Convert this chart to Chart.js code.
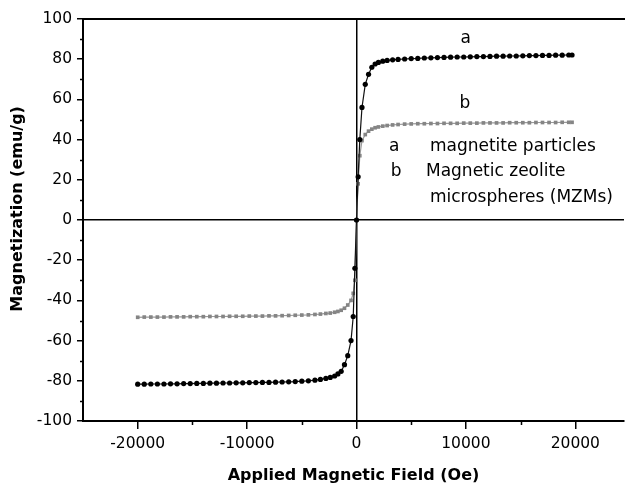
<!DOCTYPE html>
<html><head><meta charset="utf-8">
<script src="https://cdn.jsdelivr.net/npm/chart.js@4.4.1/dist/chart.umd.min.js"></script>
<style>html,body{margin:0;padding:0;background:#fff}#wrap{width:628px;height:485px;position:relative}</style>
</head><body><div id="wrap"><canvas id="c"></canvas></div>
<script>
// Applied field (Oe)
const fields = [
  -20000,-19400,-18800,-18200,-17600,-17000,-16400,-15800,-15200,-14600,-14000,-13400,-12800,
  -12200,-11600,-11000,-10400,-9800,-9200,-8600,-8000,-7400,-6800,-6200,-5600,-5000,
  -4400,-3800,-3300,-2800,-2400,-2000,-1700,-1400,-1100,-800,-500,-300,-150,
  0,
  150,300,500,800,1100,1400,1700,2000,2400,2800,3300,3800,4400,
  5000,5600,6200,6800,7400,8000,8600,9200,9800,10400,11000,11600,12200,12800,13400,14000,
  14600,15200,15800,16400,17000,17600,18200,18800,19400,19700
];
// a: magnetite particles (emu/g)
const magA = [
  -81.7,-81.7,-81.6,-81.6,-81.6,-81.5,-81.5,-81.4,-81.4,-81.3,-81.3,-81.2,-81.2,
  -81.1,-81.1,-81.0,-81.0,-80.9,-80.9,-80.8,-80.8,-80.7,-80.6,-80.5,-80.4,-80.2,
  -80.0,-79.7,-79.3,-78.8,-78.3,-77.6,-76.6,-75.3,-72.0,-67.5,-60.0,-48.0,-24.0,
  0,
  21.5,40.0,56.0,67.5,72.5,76.0,77.6,78.4,79.0,79.4,79.7,79.9,80.1,
  80.3,80.4,80.6,80.7,80.8,80.9,81.0,81.1,81.1,81.2,81.3,81.3,81.4,81.5,81.5,81.6,
  81.6,81.7,81.8,81.8,81.9,81.9,82.0,82.0,82.1,82.1
];
// b: magnetic zeolite microspheres (emu/g)
const magB = [
  -48.4,-48.3,-48.3,-48.3,-48.3,-48.2,-48.2,-48.2,-48.1,-48.1,-48.1,-48.0,-48.0,
  -48.0,-47.9,-47.9,-47.9,-47.8,-47.8,-47.8,-47.7,-47.7,-47.6,-47.5,-47.4,-47.3,
  -47.2,-47.0,-46.8,-46.5,-46.3,-45.9,-45.5,-44.9,-43.9,-42.3,-40.0,-36.5,-30.0,
  0,
  18.0,32.0,39.5,42.5,44.2,45.2,45.9,46.3,46.7,47.0,47.3,47.5,47.7,
  47.8,47.9,47.9,48.0,48.0,48.1,48.1,48.1,48.2,48.2,48.2,48.3,48.3,48.3,48.3,48.4,
  48.4,48.4,48.4,48.5,48.5,48.5,48.5,48.6,48.6,48.6
];
const xMajorTicks = [-20000,-10000,0,10000,20000];
const xMinorTicks = [-15000,-5000,5000,15000];
const yMajorTicks = [-100,-80,-60,-40,-20,0,20,40,60,80,100];
const yMinorTicks = [-90,-70,-50,-30,-10,10,30,50,70,90];
const xTitle = 'Applied Magnetic Field (Oe)';
const yTitle = 'Magnetization (emu/g)';
const curveNames = ['a','b'];
const legendRows = [
  ['a','magnetite particles'],
  ['b','Magnetic zeolite'],
  ['','microspheres (MZMs)']
];

// annotation anchors in data units
const curveLabelAt = [[9990,90.5],[9900,57.7]];
const legendKeyAt = [[3450,36.3],[3630,23.9]];
const legendTextAt = [[6710,36.3],[6350,23.9],[6710,11.4]];

const extras = {
  id:'extras',
  afterDraw(chart){
    const ctx = chart.ctx, xs = chart.scales.x, ys = chart.scales.y;
    ctx.save();
    ctx.strokeStyle = '#000'; ctx.lineWidth = 1.5;
    ctx.beginPath();
    xMinorTicks.forEach(v=>{const p=Math.round(xs.getPixelForValue(v))+0.5; ctx.moveTo(p, xs.top); ctx.lineTo(p, xs.top+4);});
    yMinorTicks.forEach(v=>{const p=Math.round(ys.getPixelForValue(v))+0.5; ctx.moveTo(ys.right, p); ctx.lineTo(ys.right-3, p);});
    ctx.stroke();
    ctx.fillStyle = '#000';
    ctx.font = '17px "DejaVu Sans"';
    ctx.textBaseline = 'middle';
    ctx.textAlign = 'center';
    curveNames.forEach((t,i)=>ctx.fillText(t, xs.getPixelForValue(curveLabelAt[i][0]), ys.getPixelForValue(curveLabelAt[i][1])));
    legendRows.forEach((r,i)=>{
      if (r[0]) { ctx.textAlign='center'; ctx.fillText(r[0], xs.getPixelForValue(legendKeyAt[i][0]), ys.getPixelForValue(legendKeyAt[i][1])); }
      ctx.textAlign='left';
      ctx.fillText(r[1], xs.getPixelForValue(legendTextAt[i][0]), ys.getPixelForValue(legendTextAt[i][1]));
    });
    ctx.restore();
  }
};

const pts = arr => fields.map((f,i)=>({x:f, y:arr[i]}));
const zeroGrid = c => (c.tick && c.tick.value === 0) ? '#000' : 'rgba(0,0,0,0)';

new Chart(document.getElementById('c'), {
  type:'line',
  data:{ datasets:[
    {label:'a', data:pts(magA), borderColor:'#111', backgroundColor:'#000', borderWidth:1.2,
     pointStyle:'circle', pointRadius:2.6, pointBorderWidth:0, pointBackgroundColor:'#000', tension:0},
    {label:'b', data:pts(magB), borderColor:'#9a9a9a', backgroundColor:'#858585', borderWidth:1.2,
     pointStyle:'rect', pointRadius:2.6, pointBorderWidth:0, pointBackgroundColor:'#858585', tension:0}
  ]},
  options:{
    responsive:true, maintainAspectRatio:false, animation:false,
    layout:{padding:0},
    plugins:{legend:{display:false}, tooltip:{enabled:false}},
    scales:{
      x:{ type:'linear', position:'bottom', min:-25000, max:24450,
        afterBuildTicks: s => { s.ticks = xMajorTicks.map(v=>({value:v})); },
        afterFit: s => { s.height = 64; },
        ticks:{ padding:6, color:'#000', font:{family:'DejaVu Sans', size:15.5}, callback:v=>String(v) },
        grid:{ drawOnChartArea:true, color:zeroGrid, lineWidth:1.5, drawTicks:true, tickLength:8, tickColor:'#000', tickWidth:1.5 },
        border:{ display:true, color:'#000', width:2 },
        title:{ display:true, text:xTitle, color:'#000', font:{family:'DejaVu Sans', size:16, weight:'bold'}, padding:{top:0,bottom:0} }
      },
      x2:{ type:'linear', position:'top', min:-25000, max:24450,
        afterFit: s => { s.height = 19; },
        ticks:{ display:false }, grid:{ display:false },
        border:{ display:true, color:'#000', width:2 }
      },
      y:{ type:'linear', position:'left', min:-100, max:100,
        afterBuildTicks: s => { s.ticks = yMajorTicks.map(v=>({value:v})); },
        afterFit: s => { s.width = 83; },
        ticks:{ padding:5, color:'#000', font:{family:'DejaVu Sans', size:15.5} },
        grid:{ drawOnChartArea:true, color:zeroGrid, lineWidth:1.5, drawTicks:true, tickLength:6, tickColor:'#000', tickWidth:1.5 },
        border:{ display:true, color:'#000', width:2 },
        title:{ display:true, text:'    '+yTitle, color:'#000', font:{family:'DejaVu Sans', size:16, weight:'bold'}, padding:{top:8,bottom:0} }
      }
    }
  },
  plugins:[extras]
});
</script></body></html>
